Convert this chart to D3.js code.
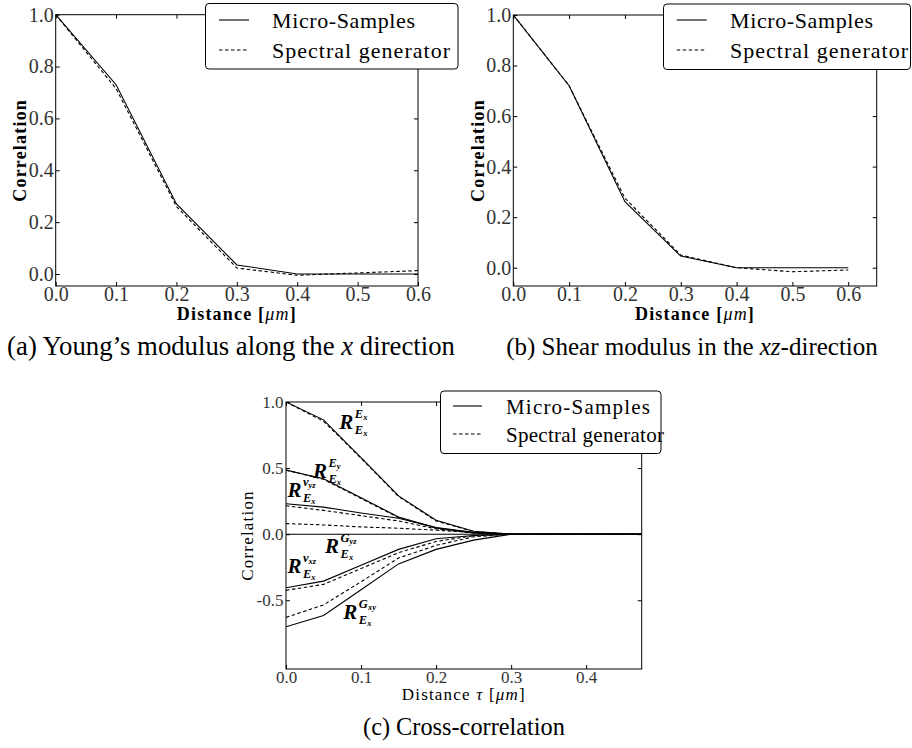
<!DOCTYPE html>
<html><head><meta charset="utf-8">
<script src="https://cdn.jsdelivr.net/npm/d3@7"></script>
<style>body{margin:0;background:#fff}svg{display:block}</style>
</head><body>
<svg id="c" width="912" height="748"></svg>
<script>
// ---------------- data ----------------
const legendLabels = ["Micro-Samples", "Spectral generator"];

// (a) Young's modulus along x
const xA = [0, 0.1, 0.2, 0.3, 0.4, 0.5, 0.6];
const aMicro = [1.0, 0.73, 0.27, 0.035, 0.0, 0.0, 0.0];
const aSpectral = [1.0, 0.715, 0.26, 0.023, -0.005, 0.004, 0.013];
const xTicksA = [0, 0.1, 0.2, 0.3, 0.4, 0.5, 0.6];
const yTicksA = [0, 0.2, 0.4, 0.6, 0.8, 1.0];

// (b) Shear modulus xz
const xB = [0, 0.1, 0.2, 0.3, 0.4, 0.5, 0.6];
const bMicro = [1.0, 0.72, 0.261, 0.046, 0.0, 0.0, 0.0];
const bSpectral = [1.0, 0.72, 0.275, 0.05, 0.0, -0.016, -0.009];
const xTicksB = [0, 0.1, 0.2, 0.3, 0.4, 0.5, 0.6];
const yTicksB = [0, 0.2, 0.4, 0.6, 0.8, 1.0];

// (c) cross-correlation
const xC = [0, 0.05, 0.1, 0.15, 0.2, 0.25, 0.3, 0.35, 0.4, 0.45, 0.475];
const cExMicro    = [1.0, 0.865, 0.58, 0.29, 0.105, 0.022, 0, 0, 0, 0, 0];
const cExSpectral = [1.0, 0.855, 0.575, 0.285, 0.10, 0.02, 0, 0, 0, 0, 0];
const cEyMicro    = [0.485, 0.42, 0.275, 0.13, 0.048, 0.01, 0, 0, 0, 0, 0];
const cEySpectral = [0.485, 0.415, 0.27, 0.125, 0.045, 0.01, 0, 0, 0, 0, 0];
const cNyzMicro    = [0.23, 0.205, 0.16, 0.12, 0.05, 0.015, 0, 0, 0, 0, 0];
const cNyzSpectral = [0.215, 0.18, 0.14, 0.10, 0.04, 0.01, 0, 0, 0, 0, 0];
const cGyzMicro    = [0, 0, 0, 0, 0, 0, 0, 0, 0, 0, 0];
const cGyzSpectral = [0.08, 0.07, 0.055, 0.045, 0.03, 0.012, 0, 0, 0, 0, 0];
const cNxzMicro    = [-0.405, -0.355, -0.235, -0.115, -0.035, -0.01, 0, 0, 0, 0, 0];
const cNxzSpectral = [-0.425, -0.38, -0.26, -0.14, -0.055, -0.012, 0, 0, 0, 0, 0];
const cGxyMicro    = [-0.70, -0.615, -0.42, -0.225, -0.115, -0.045, 0, 0, 0, 0, 0];
const cGxySpectral = [-0.63, -0.535, -0.36, -0.18, -0.085, -0.02, 0, 0, 0, 0, 0];
const xTicksC = [0, 0.1, 0.2, 0.3, 0.4];
const yTicksC = [-0.5, 0, 0.5, 1.0];
// curve annotations: superscript symbol, its subscript, anchor (data units)
const annSup    = ["E", "E", "ν", "G", "ν", "G"];
const annSupSub = ["x", "y", "yz", "yz", "xz", "xy"];
const annX = [0.071, 0.036, 0.002, 0.052, 0.002, 0.0764];
const annY = [0.794, 0.425, 0.278, -0.145, -0.296, -0.638];

// ---------------- drawing ----------------
const FONT = '"Liberation Serif","DejaVu Serif","Times New Roman",serif';
const svg = d3.select('#c').attr('font-family', FONT);
const fmt = d => d.toFixed(1);

// adjust letter spacing (bounded) so a text spans the target width
function fitWidth(t, target) {
  const node = t.node();
  const w = node.getComputedTextLength();
  const n = node.textContent.length;
  if (n > 1) {
    const ls = Math.max(-1, Math.min(1.2, (target - w) / (n - 1)));
    t.attr('letter-spacing', ls);
  }
  return t;
}
// scale font size so a text spans the target width
function fitSize(t, target) {
  const node = t.node();
  const w = node.getComputedTextLength();
  const fs = parseFloat(t.attr('font-size'));
  t.attr('font-size', fs * target / w);
  return t;
}

function drawPanel(p) {
  const g = svg.append('g');
  const x = d3.scaleLinear().domain(p.xDomain).range([p.left, p.right]);
  const y = d3.scaleLinear().domain(p.yDomain).range([p.bottom, p.top]);
  const clipId = 'clip' + p.id;
  svg.append('clipPath').attr('id', clipId).append('rect')
    .attr('x', p.left).attr('y', p.top).attr('width', p.right - p.left).attr('height', p.bottom - p.top);

  const line = d3.line().x(d => x(d[0])).y(d => y(d[1]));
  p.series.forEach(s => {
    g.append('path').datum(d3.zip(s.x, s.y)).attr('d', line)
      .attr('fill', 'none').attr('stroke', '#000').attr('stroke-width', 1.1)
      .attr('stroke-dasharray', s.dashed ? '3.5,2.5' : null)
      .attr('clip-path', `url(#${clipId})`);
  });

  // axes with inward ticks on all four sides
  const styleAxis = a => {
    a.attr('font-family', FONT).attr('font-size', p.tickFont).attr('color', '#000');
    a.select('.domain').remove();
    a.selectAll('text').attr('fill', '#333');
  };
  const ab = g.append('g').attr('transform', `translate(0,${p.bottom})`)
    .call(d3.axisBottom(x).tickValues(p.xTicks).tickFormat(fmt).tickSizeInner(-p.tick).tickSizeOuter(0).tickPadding(p.xPad));
  styleAxis(ab);
  const al = g.append('g').attr('transform', `translate(${p.left},0)`)
    .call(d3.axisLeft(y).tickValues(p.yTicks).tickFormat(fmt).tickSizeInner(-p.tick).tickSizeOuter(0).tickPadding(p.yPad));
  styleAxis(al);
  const at = g.append('g').attr('transform', `translate(0,${p.top})`)
    .call(d3.axisTop(x).tickValues(p.xTicks).tickFormat(() => '').tickSizeInner(-p.tick).tickSizeOuter(0));
  styleAxis(at);
  const ar = g.append('g').attr('transform', `translate(${p.right},0)`)
    .call(d3.axisRight(y).tickValues(p.yTicks).tickFormat(() => '').tickSizeInner(-p.tick).tickSizeOuter(0));
  styleAxis(ar);

  g.append('rect').attr('x', p.left).attr('y', p.top)
    .attr('width', p.right - p.left).attr('height', p.bottom - p.top)
    .attr('fill', 'none').attr('stroke', '#000').attr('stroke-width', 1);

  // axis labels
  const yl = g.append('text')
    .attr('transform', `translate(${p.yLabelX},${(p.top + p.bottom) / 2}) rotate(-90)`)
    .attr('text-anchor', 'middle').attr('font-size', p.labelFont)
    .attr('font-weight', p.labelWeight).attr('fill', '#000').text('Correlation');
  fitWidth(yl, p.yLabelW);
  const xl = g.append('text').attr('x', (p.left + p.right) / 2).attr('y', p.xLabelY)
    .attr('text-anchor', 'middle').attr('font-size', p.labelFont)
    .attr('font-weight', p.labelWeight).attr('fill', '#000');
  xl.append('tspan').text(p.tau ? 'Distance ' : 'Distance [');
  if (p.tau) {
    xl.append('tspan').attr('font-style', 'italic').attr('font-weight', 'normal').text('τ');
    xl.append('tspan').text(' [');
  }
  xl.append('tspan').attr('font-style', 'italic').attr('font-weight', 'normal').text('μm');
  xl.append('tspan').text(']');
  fitWidth(xl, p.xLabelW);

  // legend
  const L = p.legend;
  const lg = svg.append('g');
  lg.append('rect').attr('x', L.x).attr('y', L.y).attr('width', L.w).attr('height', L.h)
    .attr('rx', 3.5).attr('fill', '#fff').attr('stroke', '#000').attr('stroke-width', 1);
  legendLabels.forEach((lab, i) => {
    const ry = L.rowY[i];
    lg.append('line').attr('x1', L.lx1).attr('x2', L.lx2).attr('y1', ry).attr('y2', ry)
      .attr('stroke', '#000').attr('stroke-width', 1.1)
      .attr('stroke-dasharray', i === 1 ? '3.5,2.5' : null);
    const t = lg.append('text').attr('x', L.tx).attr('y', ry + L.base)
      .attr('font-size', L.font).attr('fill', '#000').text(lab);
    fitWidth(t, L.tw[i]);
  });

  // caption
  const cap = svg.append('g').append('text').attr('x', p.capX).attr('y', p.capY)
    .attr('text-anchor', 'middle').attr('font-size', p.capFont).attr('fill', '#000');
  p.caption.forEach(part => {
    const s = cap.append('tspan').text(part.t);
    if (part.it) s.attr('font-style', 'italic');
  });
  fitSize(cap, p.capW);
  return {x, y, g};
}

// (a)
drawPanel({
  id: 'a', left: 55.7, right: 418, top: 14.7, bottom: 286,
  xDomain: [0, 0.6], yDomain: [-0.0463, 1.0],
  xTicks: xTicksA, yTicks: yTicksA, tick: 4, tickFont: 20, xPad: 1, yPad: 2,
  series: [{x: xA, y: aMicro}, {x: xA, y: aSpectral, dashed: true}],
  yLabelX: 26, yLabelW: 102, xLabelY: 320, xLabelW: 125, labelFont: 18, labelWeight: 'bold',
  legend: {x: 205.5, y: 3.5, w: 252.5, h: 65.5, lx1: 219, lx2: 249, rowY: [20, 50], base: 7.5,
           tx: 272, tw: [143, 178], font: 22},
  caption: [{t: '(a)  Young’s modulus along the '}, {t: 'x', it: true}, {t: ' direction'}],
  capX: 231, capY: 355, capW: 448, capFont: 22
});

// (b)
drawPanel({
  id: 'b', left: 513.3, right: 876.7, top: 15, bottom: 286,
  xDomain: [0, 0.651], yDomain: [-0.0724, 1.0],
  xTicks: xTicksB, yTicks: yTicksB, tick: 4, tickFont: 20, xPad: 1, yPad: 2,
  series: [{x: xB, y: bMicro}, {x: xB, y: bSpectral, dashed: true}],
  yLabelX: 484, yLabelW: 102, xLabelY: 320, xLabelW: 125, labelFont: 18, labelWeight: 'bold',
  legend: {x: 663.5, y: 4, w: 247, h: 65.5, lx1: 676.7, lx2: 706.7, rowY: [20, 50], base: 7.5,
           tx: 730, tw: [143, 178], font: 22},
  caption: [{t: '(b)  Shear modulus in the '}, {t: 'xz', it: true}, {t: '-direction'}],
  capX: 692, capY: 355, capW: 372, capFont: 22
});

// (c)
const pc = drawPanel({
  id: 'c', left: 286, right: 641.7, top: 402, bottom: 669,
  xDomain: [0, 0.474], yDomain: [-1.02, 1.0],
  xTicks: xTicksC, yTicks: yTicksC, tick: 4, tickFont: 17, xPad: 1.5, yPad: 2.5,
  series: [
    {x: xC, y: cExMicro}, {x: xC, y: cExSpectral, dashed: true},
    {x: xC, y: cEyMicro}, {x: xC, y: cEySpectral, dashed: true},
    {x: xC, y: cNyzMicro}, {x: xC, y: cNyzSpectral, dashed: true},
    {x: xC, y: cGyzMicro}, {x: xC, y: cGyzSpectral, dashed: true},
    {x: xC, y: cNxzMicro}, {x: xC, y: cNxzSpectral, dashed: true},
    {x: xC, y: cGxyMicro}, {x: xC, y: cGxySpectral, dashed: true}
  ],
  yLabelX: 253, yLabelW: 90, xLabelY: 700, xLabelW: 123, labelFont: 17, labelWeight: 'normal', tau: true,
  legend: {x: 440.5, y: 391, w: 220.5, h: 62.5, lx1: 453, lx2: 482, rowY: [406, 434], base: 8,
           tx: 506, tw: [144, 158], font: 21},
  caption: [{t: '(c)  Cross-correlation'}],
  capX: 464, capY: 735, capW: 202, capFont: 21
});

// curve annotations R^{..}_{E_x}
const ann = pc.g.append('g').attr('fill', '#000');
annSup.forEach((s, i) => {
  const ax = pc.x(annX[i]), ay = pc.y(annY[i]);
  const r = ann.append('text').attr('x', ax).attr('y', ay).attr('font-size', 21)
    .attr('font-weight', 'bold').attr('font-style', 'italic').text('R');
  const rw = r.node().getComputedTextLength();
  const sx = ax + Math.max(rw, 14) + 1.5;
  const sup = ann.append('text').attr('x', sx).attr('y', ay - 11)
    .attr('font-weight', 'bold').attr('font-style', 'italic');
  sup.append('tspan').attr('font-size', 12.5).text(s);
  sup.append('tspan').attr('font-size', 8.5).attr('dy', 2).text(annSupSub[i]);
  const sub = ann.append('text').attr('x', sx).attr('y', ay + 5)
    .attr('font-weight', 'bold').attr('font-style', 'italic');
  sub.append('tspan').attr('font-size', 12.5).text('E');
  sub.append('tspan').attr('font-size', 8.5).attr('dy', 2).text('x');
});
</script>
</body></html>
